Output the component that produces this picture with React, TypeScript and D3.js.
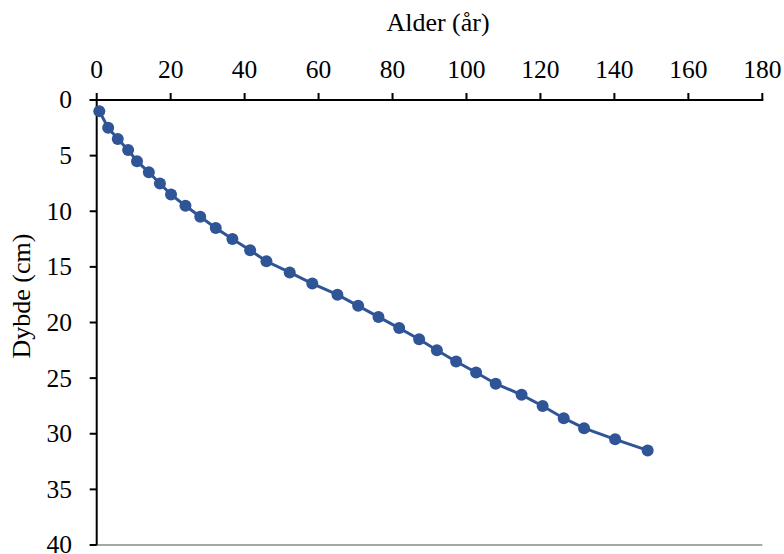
import React from "react";
import * as d3 from "d3";

const ages = [0.7, 3.1, 5.7, 8.5, 10.9, 14.1, 17.1, 20.1, 24.0, 28.0, 32.2, 36.7, 41.5, 45.9, 52.2, 58.3, 65.1, 70.7, 76.2, 81.8, 87.2, 92.0, 97.2, 102.6, 107.9, 114.9, 120.6, 126.3, 131.8, 140.2, 149.0];
const depths = [1, 2.5, 3.5, 4.5, 5.5, 6.5, 7.5, 8.5, 9.5, 10.5, 11.5, 12.5, 13.5, 14.5, 15.5, 16.5, 17.5, 18.5, 19.5, 20.5, 21.5, 22.5, 23.5, 24.5, 25.5, 26.5, 27.5, 28.6, 29.5, 30.5, 31.5];
const xTicks = [0, 20, 40, 60, 80, 100, 120, 140, 160, 180];
const yTicks = [0, 5, 10, 15, 20, 25, 30, 35, 40];
const xTitle = "Alder (år)";
const yTitle = "Dybde (cm)";

const W = 784;
const H = 554;
const left = 96.7;
const right = 762.3;
const top = 100;
const bottom = 545;
const color = "#2F5597";
const font = "'Liberation Serif', 'Times New Roman', serif";

export default function App() {
  const x = d3.scaleLinear().domain([0, 180]).range([left, right]);
  const y = d3.scaleLinear().domain([0, 40]).range([top, bottom]);
  const pts = ages.map((a, i) => [a, depths[i]] as [number, number]);
  const line = d3.line<[number, number]>().x((d) => x(d[0])).y((d) => y(d[1]));

  return (
    <svg width={W} height={H} style={{ position: "absolute", left: 0, top: 0, background: "#fff" }} fontFamily={font}>
      <rect x={0} y={0} width={W} height={H} fill="#fff" />
      <line x1={x(0) - 7} x2={x(180)} y1={y(40)} y2={y(40)} stroke="#a6a6a6" strokeWidth={2} />
      <line x1={x(0) - 7} x2={x(180) + 1} y1={y(0)} y2={y(0)} stroke="#000" strokeWidth={2} />
      {xTicks.map((t) => (
        <g key={"x" + t}>
          <line x1={x(t)} x2={x(t)} y1={y(0)} y2={y(0) - 7} stroke="#000" strokeWidth={2} />
          <text x={x(t)} y={77.5} textAnchor="middle" fontSize={25.5} fill="#000">{t}</text>
        </g>
      ))}
      <line x1={x(0)} x2={x(0)} y1={y(0) - 1} y2={y(40)} stroke="#000" strokeWidth={2} />
      {yTicks.map((t) => (
        <g key={"y" + t}>
          <line x1={x(0)} x2={x(0) - 7} y1={y(t)} y2={y(t)} stroke="#000" strokeWidth={2} />
          <text x={72} y={y(t)} dy="0.33em" textAnchor="end" fontSize={25.5} fill="#000">{t}</text>
        </g>
      ))}
      <text x={438} y={31} textAnchor="middle" fontSize={26} fill="#000">{xTitle}</text>
      <text transform={`translate(30, 296) rotate(-90)`} textAnchor="middle" fontSize={26} fill="#000">{yTitle}</text>
      <path d={line(pts) || ""} fill="none" stroke={color} strokeWidth={3} />
      {pts.map((p, i) => (
        <circle key={i} cx={x(p[0])} cy={y(p[1])} r={6} fill={color} />
      ))}
    </svg>
  );
}
